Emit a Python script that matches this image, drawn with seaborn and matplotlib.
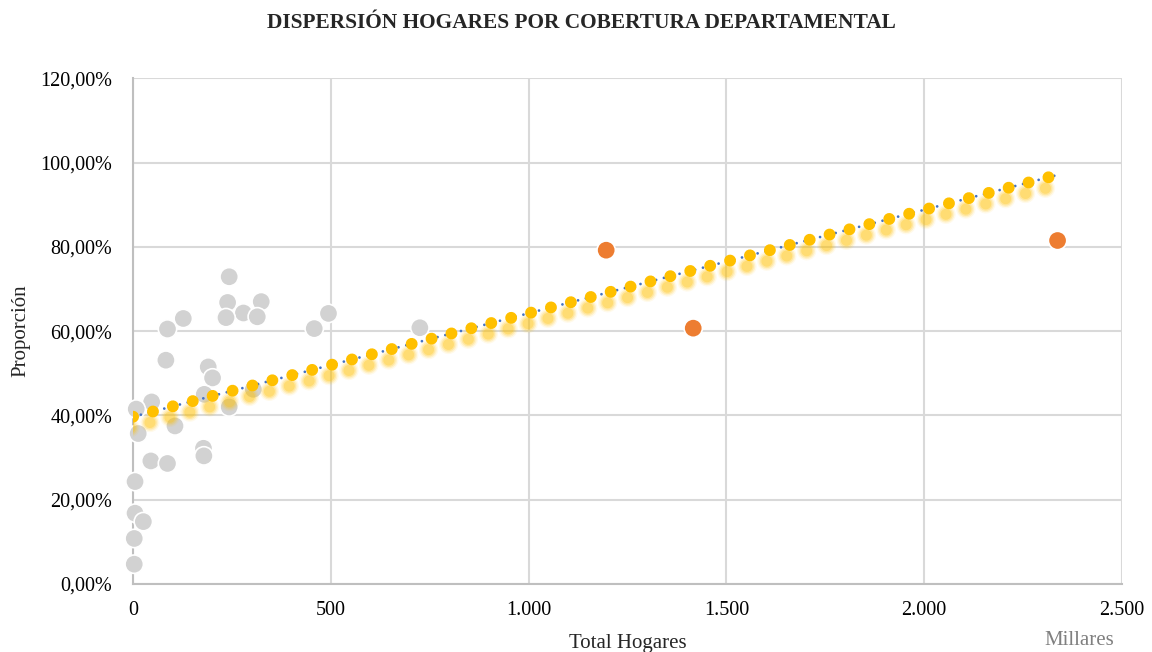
import numpy as np
import pandas as pd
import matplotlib
matplotlib.use('Agg')
import matplotlib.pyplot as plt
import matplotlib.transforms as mtransforms
from matplotlib.ticker import FuncFormatter, MultipleLocator
import seaborn as sns

# Datos (miles de hogares, proporción en %)
hogares_gris = [243, 239, 324, 127, 279, 235, 314, 87, 458, 494, 725, 83, 190, 201, 180,
                304, 47, 8, 243, 13, 106, 178, 179, 45, 87, 5, 5, 26, 3, 3]
prop_gris = [72.9, 66.8, 67.0, 63.0, 64.3, 63.2, 63.4, 60.5, 60.6, 64.2, 60.8, 53.1, 51.5, 48.9, 45.0,
             46.2, 43.2, 41.5, 42.0, 35.7, 37.5, 32.2, 30.4, 29.2, 28.6, 24.3, 16.8, 14.8, 10.8, 4.7]
hogares_naranja = [1196, 1416, 2337]
prop_naranja = [79.2, 60.7, 81.5]

titulo = 'DISPERSIÓN HOGARES POR COBERTURA DEPARTAMENTAL'

df = pd.DataFrame({
    'hogares': hogares_gris + hogares_naranja,
    'prop': prop_gris + prop_naranja,
    'grupo': ['resto'] * len(hogares_gris) + ['destacado'] * len(hogares_naranja),
})

sns.set_style('white')
plt.rcParams['font.family'] = ['Liberation Serif', 'DejaVu Serif']
plt.rcParams['lines.scale_dashes'] = False

fig = plt.figure(figsize=(11.52, 6.52), dpi=100)
ax = fig.add_axes([0.1155, 0.1043, 0.8585, 0.7757])

sns.scatterplot(data=df, x='hogares', y='prop', hue='grupo',
                palette={'resto': '#D2D2D2', 'destacado': '#ED7D31'},
                s=175, edgecolor='white', linewidth=1.2, legend=False, ax=ax,
                zorder=3, clip_on=False)

# Línea de tendencia lineal
pend, inter = np.polyfit(df['hogares'], df['prop'], 1)
tx = np.array([0, df['hogares'].max()])
ty = inter + pend * tx

# sombra difusa amarilla
sombra = mtransforms.offset_copy(ax.transData, fig=fig, x=-3, y=-11, units='dots')
for lw, a in [(14, 0.08), (12, 0.14), (10, 0.2), (8, 0.28)]:
    ax.plot(tx, ty, color='#FFC000', lw=lw, alpha=a, linestyle=(0, (0.01, 14.8)),
            dash_capstyle='round', transform=sombra, zorder=4)
ax.plot(tx, ty, color='#4472C4', lw=2.0, linestyle=(0, (0.01, 5.8)),
        dash_capstyle='round', zorder=5)
ax.plot(tx, ty, color='#FFC000', lw=8.6, linestyle=(0, (0.01, 14.8)),
        dash_capstyle='round', zorder=6)

ax.set_xlim(0, 2500)
ax.set_ylim(0, 120)
ax.xaxis.set_major_locator(MultipleLocator(500))
ax.yaxis.set_major_locator(MultipleLocator(20))
ax.xaxis.set_major_formatter(FuncFormatter(lambda v, p: f'{int(v):,}'.replace(',', '.')))
ax.yaxis.set_major_formatter(FuncFormatter(lambda v, p: f'{v:.2f}%'.replace('.', ',')))

ax.grid(True, color='#D9D9D9', linewidth=1.5)
ax.set_axisbelow(True)
for s in ['top', 'right']:
    ax.spines[s].set_visible(False)
for s in ['left', 'bottom']:
    ax.spines[s].set_color('#BFBFBF')
    ax.spines[s].set_linewidth(1.5)
ax.tick_params(axis='both', length=0, labelsize=14.5, colors='#000000')
ax.tick_params(axis='y', pad=15)
ax.tick_params(axis='x', pad=12)

ax.set_xlabel('Total Hogares', fontsize=15, labelpad=10)
ax.set_ylabel('Proporción', fontsize=15, labelpad=7)
fig.text(0.5045, 0.964, titulo, ha='center', va='center', fontsize=15.4, fontweight='bold')
fig.text(0.9366, 0.0184, 'Millares', ha='center', va='center', fontsize=15, color='#808080')

fig.savefig('out.png', dpi=100)
